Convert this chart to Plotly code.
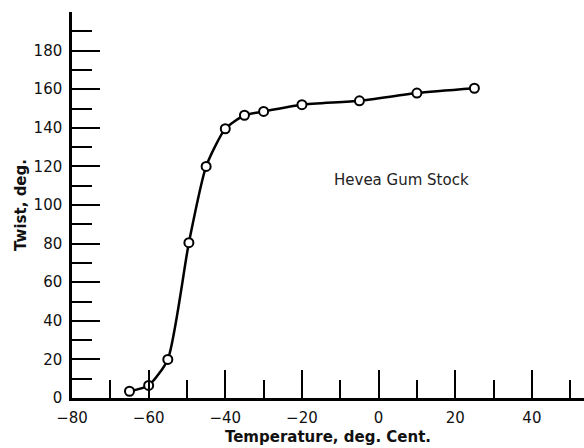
import plotly.graph_objects as go

temperature = [-65, -60, -55, -49.5, -45, -40, -35, -30, -20, -5, 10, 25]
twist = [3.5, 6.5, 20, 80.5, 120, 139.5, 146.5, 148.5, 152, 154, 158, 160.5]
label_text = "Hevea Gum Stock"
label_pos = (6, 113)

fig = go.Figure()
fig.add_trace(go.Scatter(
    x=temperature, y=twist, mode="lines+markers",
    line=dict(color="black", width=2.5, shape="spline", smoothing=0.6),
    marker=dict(symbol="circle", size=9, color="white", line=dict(color="black", width=2)),
    showlegend=False, cliponaxis=False,
))
fig.add_annotation(x=label_pos[0], y=label_pos[1], text=label_text, showarrow=False,
                   font=dict(family="DejaVu Sans", size=15, color="#222"))

fig.update_layout(
    width=584, height=448,
    margin=dict(l=72, r=0, t=12, b=50),
    paper_bgcolor="white", plot_bgcolor="white",
    font=dict(family="DejaVu Sans", size=15, color="#111"),
)
fig.update_xaxes(
    range=[-80, 53.6], showgrid=False, zeroline=False, automargin=False,
    showline=True, linecolor="black", linewidth=2.5,
    tickmode="linear", tick0=-80, dtick=20,
    ticks="inside", ticklen=28, tickwidth=2, tickcolor="black", ticklabelstandoff=4,
    minor=dict(ticks="inside", ticklen=18, tickwidth=2, tickcolor="black", dtick=10, tick0=-80, showgrid=False),
    title=dict(text="<b>Temperature, deg. Cent.</b>", standoff=6, font=dict(size=15)),
    tickfont=dict(size=15),
)
fig.update_yaxes(
    range=[0, 200], showgrid=False, zeroline=False, automargin=False,
    showline=True, linecolor="black", linewidth=2.5,
    tickmode="array", tickvals=list(range(0, 181, 20)),
    ticks="inside", ticklen=28, tickwidth=2, tickcolor="black", ticklabelstandoff=4,
    minor=dict(ticks="inside", ticklen=20, tickwidth=2, tickcolor="black", tickvals=list(range(10, 191, 20)), showgrid=False),
    title=dict(text="<b>Twist, deg.</b>", standoff=4, font=dict(size=15)),
    tickfont=dict(size=15),
)
fig.write_html("out.html", config={"displayModeBar": False},
               post_script="document.body.style.margin='0';")
